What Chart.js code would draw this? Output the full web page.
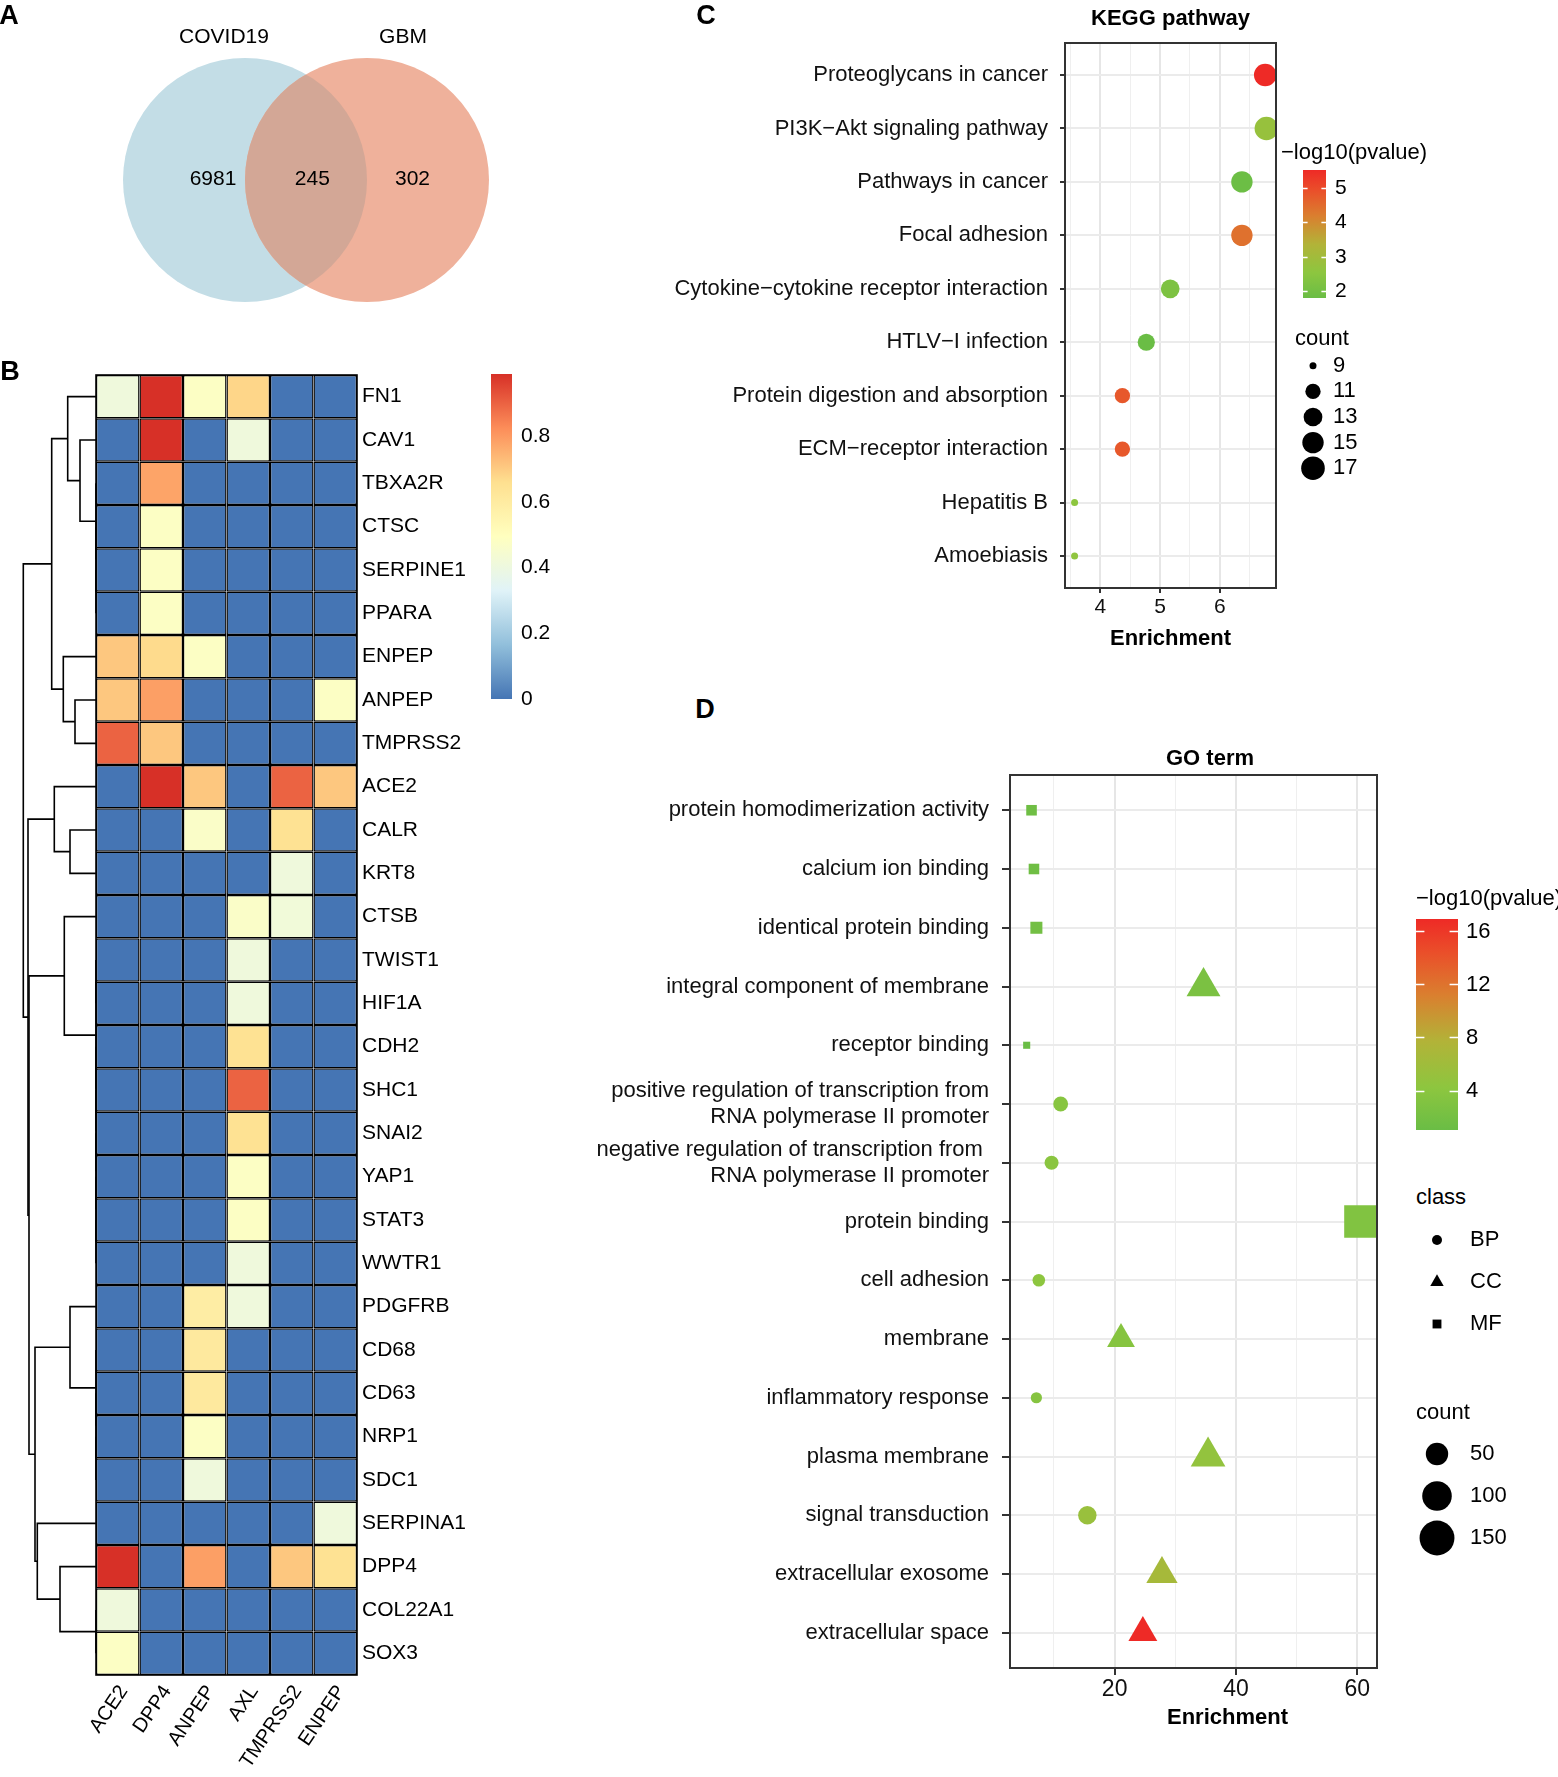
<!DOCTYPE html>
<html>
<head>
<meta charset="utf-8">
<title>COVID19 / GBM figure</title>
<script src="https://cdn.jsdelivr.net/npm/chart.js@4.4.1/dist/chart.umd.min.js"></script>
<style>
  html, body { margin:0; padding:0; background:#fff; }
  #page { position:relative; width:1558px; height:1777px; overflow:hidden; background:#fff;
          font-family:"Liberation Sans", Arial, Helvetica, sans-serif; color:#000; }
  #page canvas { position:absolute; }
  .t { position:absolute; white-space:pre; font-size:22px; line-height:22px; }
</style>
</head>
<body>
<div id="page"></div>
<script>
// ================= DATA =================
// Panel A - Venn
const vennSets = ['COVID19', 'GBM'];
const vennCounts = [6981, 245, 302];          // COVID19 only, shared, GBM only

// Panel B - heatmap
const heatGenes = ['FN1','CAV1','TBXA2R','CTSC','SERPINE1','PPARA','ENPEP','ANPEP','TMPRSS2','ACE2',
                   'CALR','KRT8','CTSB','TWIST1','HIF1A','CDH2','SHC1','SNAI2','YAP1','STAT3',
                   'WWTR1','PDGFRB','CD68','CD63','NRP1','SDC1','SERPINA1','DPP4','COL22A1','SOX3'];
const heatSamples = ['ACE2','DPP4','ANPEP','AXL','TMPRSS2','ENPEP'];
const heatACE2    = [0.41,0,0,0,0,0,0.71,0.71,0.90,0, 0,0,0,0,0,0,0,0,0,0, 0,0,0,0,0,0,0,0.99,0.41,0.48];
const heatDPP4    = [0.99,0.99,0.78,0.48,0.48,0.48,0.67,0.79,0.71,0.99, 0,0,0,0,0,0,0,0,0,0, 0,0,0,0,0,0,0,0,0,0];
const heatANPEP   = [0.48,0,0,0,0,0,0.48,0,0,0.71, 0.47,0,0,0,0,0,0,0,0,0, 0,0.59,0.61,0.61,0.48,0.41,0,0.79,0,0];
const heatAXL     = [0.68,0.41,0,0,0,0,0,0,0,0, 0,0,0.47,0.41,0.41,0.65,0.90,0.65,0.48,0.48, 0.41,0.41,0,0,0,0,0,0,0,0];
const heatTMPRSS2 = [0,0,0,0,0,0,0,0,0,0.90, 0.65,0.41,0.42,0,0,0,0,0,0,0, 0,0,0,0,0,0,0,0.71,0,0];
const heatENPEP   = [0,0,0,0,0,0,0,0.48,0,0.71, 0,0,0,0,0,0,0,0,0,0, 0,0,0,0,0,0,0.41,0.65,0,0];
const heatMax = 0.99;
const heatTicks = [0, 0.2, 0.4, 0.6, 0.8];
// row dendrogram, hclust style: negative = leaf (row index + 1), positive = earlier merge (1-based), then height
const dendroMerges = [
  [-5,-6,0],[-4,1,0],[-3,2,0],[-2,3,16],[-1,4,28.3],[-8,-9,21],[-7,6,32.7],[5,7,44.3],
  [-11,-12,26],[-10,9,41.7],
  [-20,-21,0],[-19,11,0],[-18,12,0],[-17,13,0],[-16,14,0],[-14,-15,0],[16,15,0],[-13,17,31.7],
  [-25,-26,0],[-24,19,0],[-23,20,0],[-22,21,26],
  [-29,-30,0],[-28,23,36],[-27,24,58.7],[22,25,61],
  [18,26,67],[10,27,68],[8,28,72.7]
];

// Panel C - KEGG
const keggPathways = ['Proteoglycans in cancer','PI3K\u2212Akt signaling pathway','Pathways in cancer','Focal adhesion',
  'Cytokine\u2212cytokine receptor interaction','HTLV\u2212I infection','Protein digestion and absorption',
  'ECM\u2212receptor interaction','Hepatitis B','Amoebiasis'];
const keggEnrichment = [6.76, 6.78, 6.37, 6.37, 5.17, 4.77, 4.37, 4.37, 3.57, 3.57];
const keggLogP       = [5.52, 2.77, 1.85, 4.40, 2.20, 1.80, 4.78, 4.78, 2.55, 2.60];
const keggCount      = [16, 17, 15, 15, 13, 12, 11, 11, 9, 9];
const keggXTicks = [3.5, 4, 4.5, 5, 5.5, 6, 6.5];
const keggColorTicks = [2, 3, 4, 5];
const keggCountBreaks = [9, 11, 13, 15, 17];

// Panel D - GO
const goTerms = ['protein homodimerization activity','calcium ion binding','identical protein binding',
  'integral component of membrane','receptor binding',
  ['positive regulation of transcription from','RNA polymerase II promoter'],
  ['negative regulation of transcription from ','RNA polymerase II promoter'],
  'protein binding','cell adhesion','membrane','inflammatory response','plasma membrane',
  'signal transduction','extracellular exosome','extracellular space'];
const goClass      = ['MF','MF','MF','CC','MF','BP','BP','MF','BP','CC','BP','CC','BP','CC','CC'];
const goEnrichment = [6.3, 6.7, 7.1, 34.65, 5.5, 11.1, 9.6, 60.5, 7.5, 21.05, 7.1, 35.4, 15.5, 27.8, 24.65];
const goLogP       = [1.5, 1.5, 1.8, 2.6, 1.02, 3.7, 3.9, 3.1, 4.2, 3.6, 3.6, 4.8, 5.3, 6.6, 16.94];
const goCount      = [13, 13, 16, 67, 10, 19, 17, 166, 14, 41, 12, 71, 31, 55, 45];
const goXTicks = [10, 20, 30, 40, 50, 60];
const goMajorTicks = [20, 40, 60];
const goColorTicks = [4, 8, 12, 16];
const goClassLevels = ['BP', 'CC', 'MF'];
const goCountBreaks = [50, 100, 150];

// ================= STYLE / HELPERS =================
const FONT = '"Liberation Sans", Arial, Helvetica, sans-serif';
Chart.defaults.font.family = FONT;
Chart.defaults.color = '#000';
Chart.defaults.animation = false;
Chart.defaults.responsive = false;
Chart.defaults.events = [];
Chart.defaults.layout.autoPadding = false;
Chart.defaults.plugins.legend.display = false;
Chart.defaults.plugins.tooltip.enabled = false;

const page = document.getElementById('page');
function mkCanvas(L) {
  const c = document.createElement('canvas');
  c.width = L.w; c.height = L.h;
  c.style.left = L.left + 'px'; c.style.top = L.top + 'px';
  c.style.width = L.w + 'px'; c.style.height = L.h + 'px';
  page.appendChild(c);
  return c;
}
function addText(str, x, y, opt = {}) {
  const d = document.createElement('div');
  d.className = 't';
  d.textContent = str;
  d.style.left = x + 'px'; d.style.top = y + 'px';
  if (opt.bold) d.style.fontWeight = 'bold';
  if (opt.size) { d.style.fontSize = opt.size + 'px'; d.style.lineHeight = opt.size + 'px'; }
  d.style.transform = opt.center ? 'translate(-50%,-50%)' : 'translate(0,-50%)';
  page.appendChild(d);
}
// fixed axis box sizes, no automatic label overhang padding
function fixW(w) { return s => { s.width = w; s.paddingTop = s.paddingBottom = s.paddingLeft = s.paddingRight = 0; }; }
function fixH(h) { return s => { s.height = h; s.paddingTop = s.paddingBottom = s.paddingLeft = s.paddingRight = 0; }; }
function hexToRgb(h) { const n = parseInt(h.slice(1), 16); return [(n >> 16) & 255, (n >> 8) & 255, n & 255]; }
function lerpStops(stops, t) {
  t = Math.max(0, Math.min(1, t));
  for (let i = 0; i < stops.length - 1; i++) {
    const [t0, c0] = stops[i], [t1, c1] = stops[i + 1];
    if (t <= t1 + 1e-9) {
      const u = (t - t0) / (t1 - t0), a = hexToRgb(c0), b = hexToRgb(c1);
      return 'rgb(' + [0,1,2].map(k => Math.round(a[k] + (b[k] - a[k]) * u)).join(',') + ')';
    }
  }
  return stops[stops.length - 1][1];
}
const heatStops = ['#4575B4','#91BFDB','#E0F3F8','#FFFFBF','#FEE090','#FC8D59','#D73027'].map((c, i, a) => [i / (a.length - 1), c]);
const enrichStops = [[0,'#6abd45'],[0.2,'#8dc63f'],[0.42,'#b2b338'],[0.64,'#da7f2f'],[0.84,'#ea4f2a'],[1,'#ee2a26']];
function heatColor(v) { return lerpStops(heatStops, v / heatMax); }
function rangeOf(a) { return [Math.min(...a), Math.max(...a)]; }
function enrichColor(v, arr) { const [lo, hi] = rangeOf(arr); return lerpStops(enrichStops, (v - lo) / (hi - lo)); }
function expand(arr, f = 0.05) { const [lo, hi] = rangeOf(arr); const d = (hi - lo) * f; return [lo - d, hi + d]; }
function gradientFill(ctx, stops) {
  const a = ctx.chart.chartArea;
  if (!a) return '#ccc';
  const g = ctx.chart.ctx.createLinearGradient(0, a.bottom, 0, a.top);
  stops.forEach(([t, c]) => g.addColorStop(t, c));
  return g;
}
// size scales (ggplot-like area scaling)
function keggRadius(c) { const [lo, hi] = rangeOf(keggCount); return 3.5 + 8.3 * Math.sqrt((c - lo) / (hi - lo)); }
function goRadius(c) { const [lo, hi] = rangeOf(goCount); return 4 + 14.2 * Math.sqrt(Math.max(0, (c - lo) / (hi - lo))); }
const shapeStyle = { BP: 'circle', CC: 'triangle', MF: 'rect' };
const shapeScale = { BP: 1, CC: 1.555, MF: 1.253 };

// plugin: panel border + titles (ggplot theme_bw look)
const panelDeco = {
  id: 'panelDeco',
  afterDraw(chart, args, o) {
    const { ctx, chartArea: a } = chart;
    ctx.save();
    ctx.strokeStyle = '#333'; ctx.lineWidth = 2;
    ctx.strokeRect(a.left, a.top, a.right - a.left, a.bottom - a.top);
    ctx.fillStyle = '#000'; ctx.textAlign = 'center'; ctx.textBaseline = 'middle';
    ctx.font = 'bold 22px ' + FONT;
    const cx = (a.left + a.right) / 2;
    if (o.title) ctx.fillText(o.title, cx + (o.titleDx || 0), a.top - o.titleUp);
    if (o.xTitle) ctx.fillText(o.xTitle, cx + (o.xTitleDx || 0), a.bottom + o.xTitleDown);
    ctx.restore();
  }
};
// plugin: white tick marks inside a colour bar
const barTicks = {
  id: 'barTicks',
  afterDatasetsDraw(chart) {
    const { ctx, chartArea: a, scales: { y } } = chart;
    const w = (a.right - a.left) / 5;
    ctx.save(); ctx.strokeStyle = '#fff'; ctx.lineWidth = 1.5;
    y.ticks.forEach(t => {
      const p = Math.round(y.getPixelForValue(t.value)) + 0.5;
      ctx.beginPath(); ctx.moveTo(a.left, p); ctx.lineTo(a.left + w, p);
      ctx.moveTo(a.right - w, p); ctx.lineTo(a.right, p); ctx.stroke();
    });
    ctx.restore();
  }
};
const outline = {
  id: 'outline',
  afterDatasetsDraw(chart) {
    const { ctx, chartArea: a } = chart;
    ctx.save(); ctx.strokeStyle = '#000'; ctx.lineWidth = 1.6;
    ctx.strokeRect(a.left, a.top, a.right - a.left, a.bottom - a.top);
    ctx.restore();
  }
};

function colorbar(L, range, ticks, stops, fmt, axisW, pad, size, withTicks) {
  new Chart(mkCanvas(L), {
    type: 'bar',
    data: { labels: [''], datasets: [{ data: [[range[0], range[1]]], backgroundColor: c => gradientFill(c, stops),
      borderWidth: 0, barPercentage: 1, categoryPercentage: 1, inflateAmount: 0 }] },
    options: {
      layout: { padding: L.pad },
      scales: {
        x: { display: false },
        y: { position: 'right', min: range[0], max: range[1],
             afterBuildTicks: s => { s.ticks = ticks.map(v => ({ value: v })); },
             afterFit: fixW(axisW),
             grid: { display: false, drawTicks: false }, border: { display: false },
             ticks: { autoSkip: false, padding: pad, font: { size }, color: '#000', callback: fmt } }
      }
    },
    plugins: withTicks ? [barTicks] : []
  });
}
function symbolLegend(L, labels, styleFn, radiusFn, axisW, pad) {
  new Chart(mkCanvas(L), {
    type: 'scatter',
    data: { datasets: [{ data: labels.map((_, i) => ({ x: 0, y: i })),
      pointStyle: c => styleFn(c.dataIndex), pointRadius: c => radiusFn(c.dataIndex),
      pointBackgroundColor: '#000', pointBorderWidth: 0, clip: false }] },
    options: {
      layout: { padding: L.pad },
      scales: {
        x: { type: 'linear', display: false, min: -1, max: 1 },
        y: { type: 'linear', position: 'right', reverse: true, min: -0.5, max: labels.length - 0.5,
             afterBuildTicks: s => { s.ticks = labels.map((_, i) => ({ value: i })); },
             afterFit: fixW(axisW),
             grid: { display: false, drawTicks: false }, border: { display: false },
             ticks: { autoSkip: false, padding: pad, font: { size: 22 }, color: '#000', callback: v => String(labels[v]) } }
      }
    }
  });
}

// ================= PANEL A : Venn =================
(function () {
  const L = { left: 0, top: 0, w: 520, h: 330 };
  const unit = 122, cxPx = 306, cyPx = 180;     // layout of the diagram
  const centersX = [-0.5, 0.5], radius = 1;      // geometry in diagram units
  const fills = ['#c3dde6', '#efb19b'], overlapFill = '#d3a796';
  const setLabelPos = [[-0.672, 1.168], [0.795, 1.168]];
  const countPos = [[-0.762, 0.01], [0.052, 0.01], [0.873, 0.01]];
  new Chart(mkCanvas(L), {
    type: 'scatter',
    data: { datasets: [{ data: vennSets.map((s, i) => ({ x: centersX[i], y: 0 })), pointRadius: 0 }] },
    options: {
      layout: { padding: 0 },
      scales: {
        x: { type: 'linear', display: false, min: -cxPx / unit, max: (L.w - cxPx) / unit },
        y: { type: 'linear', display: false, min: -(L.h - cyPx) / unit, max: cyPx / unit }
      }
    },
    plugins: [{
      id: 'venn',
      afterDatasetsDraw(chart) {
        const { ctx, scales: { x, y } } = chart;
        const p = chart.getDatasetMeta(0).data;
        const R = Math.abs(x.getPixelForValue(radius) - x.getPixelForValue(0));
        const circle = i => { ctx.beginPath(); ctx.arc(p[i].x, p[i].y, R, 0, Math.PI * 2); };
        ctx.save();
        circle(0); ctx.fillStyle = fills[0]; ctx.fill();
        circle(1); ctx.fillStyle = fills[1]; ctx.fill();
        circle(0); ctx.clip();
        circle(1); ctx.fillStyle = overlapFill; ctx.fill();
        ctx.restore();
        ctx.save();
        ctx.font = '21px ' + FONT; ctx.fillStyle = '#000'; ctx.textAlign = 'center'; ctx.textBaseline = 'middle';
        vennSets.forEach((s, i) => ctx.fillText(s, x.getPixelForValue(setLabelPos[i][0]), y.getPixelForValue(setLabelPos[i][1])));
        vennCounts.forEach((n, i) => ctx.fillText(String(n), x.getPixelForValue(countPos[i][0]), y.getPixelForValue(countPos[i][1])));
        ctx.restore();
      }
    }]
  });
})();

// ================= PANEL B : dendrogram + heatmap =================
(function () {
  // dendrogram
  const pos = [], hgt = [];
  const nPos = id => id < 0 ? (-id - 1) : pos[id - 1];
  const nH = id => id < 0 ? 0 : hgt[id - 1];
  const segs = dendroMerges.map(([a, b, h]) => {
    const pa = nPos(a), pb = nPos(b);
    const s = [{ x: nH(a), y: pa }, { x: h, y: pa }, { x: h, y: pb }, { x: nH(b), y: pb }];
    pos.push((pa + pb) / 2); hgt.push(h);
    return s;
  });
  const LD = { left: 0, top: 371, w: 100, h: 1308 };
  new Chart(mkCanvas(LD), {
    type: 'scatter',
    data: { datasets: segs.map(s => ({ data: s, showLine: true, borderColor: '#000', borderWidth: 1.6,
      pointRadius: 0, tension: 0, fill: false, borderJoinStyle: 'miter', clip: false })) },
    options: {
      layout: { padding: { left: 16, right: 4, top: 4, bottom: 4 } },
      scales: {
        x: { type: 'linear', display: false, min: 0, max: 80, reverse: true },
        y: { type: 'linear', display: false, min: -0.5, max: heatGenes.length - 0.5, reverse: true }
      }
    }
  });

  // heatmap
  const cols = [heatACE2, heatDPP4, heatANPEP, heatAXL, heatTMPRSS2, heatENPEP];
  const LH = { left: 40, top: 369, w: 467, h: 1408 };
  new Chart(mkCanvas(LH), {
    type: 'bar',
    data: { labels: heatGenes, datasets: heatSamples.map((s, j) => ({
      label: s, data: heatGenes.map(() => 1),
      backgroundColor: c => heatColor(cols[j][c.dataIndex]),
      borderColor: '#000', borderWidth: 1.4, borderSkipped: false,
      barPercentage: 1, categoryPercentage: 1, inflateAmount: 0 })) },
    options: {
      indexAxis: 'y',
      layout: { padding: { left: 56, top: 6, right: 0, bottom: 0 } },
      scales: {
        x: { type: 'linear', stacked: true, min: 0, max: heatSamples.length, position: 'bottom',
             afterBuildTicks: s => { s.ticks = heatSamples.map((_, i) => ({ value: i + 0.5 })); },
             afterFit: fixH(102),
             grid: { display: false, drawTicks: false }, border: { display: false },
             ticks: { autoSkip: false, minRotation: 56, maxRotation: 56, padding: 6, labelOffset: 6,
                      font: { size: 20 }, color: '#000', callback: v => heatSamples[Math.floor(v)] } },
        y: { type: 'category', stacked: true, position: 'right',
             afterFit: fixW(150),
             grid: { display: false, drawTicks: false }, border: { display: false },
             ticks: { autoSkip: false, padding: 5, font: { size: 21 }, color: '#000' } }
      }
    },
    plugins: [outline]
  });

  // heatmap colour key
  colorbar({ left: 491, top: 360, w: 81, h: 359, pad: { top: 14, bottom: 20, left: 0, right: 0 } },
    [0, heatMax], heatTicks, heatStops, v => (v === 0 ? '0' : v.toFixed(1)), 60, 9, 21, false);
})();

// ================= PANEL C : KEGG =================
(function () {
  const xr = expand(keggEnrichment);
  const major = v => Number.isInteger(v);
  new Chart(mkCanvas({ left: 640, top: 0, w: 640, h: 655 }), {
    type: 'scatter',
    data: { datasets: [{ data: keggEnrichment.map((x, i) => ({ x, y: i })),
      pointRadius: c => keggRadius(keggCount[c.dataIndex]),
      pointBackgroundColor: c => enrichColor(keggLogP[c.dataIndex], keggLogP),
      pointBorderWidth: 0, pointStyle: 'circle' }] },
    options: {
      layout: { padding: { left: 0, right: 4, top: 43, bottom: 0 } },
      scales: {
        x: { type: 'linear', min: xr[0], max: xr[1],
             afterBuildTicks: s => { s.ticks = keggXTicks.map(v => ({ value: v })); },
             afterFit: fixH(67),
             grid: { color: c => major(c.tick.value) ? '#e6e6e6' : '#efefef', lineWidth: c => major(c.tick.value) ? 2 : 1,
                     tickColor: c => major(c.tick.value) ? '#333' : 'rgba(0,0,0,0)', tickWidth: 2, tickLength: 5 },
             border: { display: false },
             ticks: { autoSkip: false, maxRotation: 0, padding: 2, font: { size: 21 }, color: '#111',
                      callback: v => major(v) ? String(v) : '' } },
        y: { type: 'linear', reverse: true, min: -0.6, max: keggPathways.length - 0.4,
             afterBuildTicks: s => { s.ticks = keggPathways.map((_, i) => ({ value: i })); },
             afterFit: fixW(425),
             grid: { color: '#ebebeb', lineWidth: 2, tickColor: '#333', tickWidth: 2, tickLength: 5 },
             border: { display: false },
             ticks: { autoSkip: false, padding: 12, font: { size: 22 }, color: '#111', callback: v => keggPathways[v] } }
      },
      plugins: { panelDeco: { title: 'KEGG pathway', titleUp: 24, xTitle: 'Enrichment', xTitleDown: 50.5 } }
    },
    plugins: [panelDeco]
  });
  const pr = rangeOf(keggLogP);
  colorbar({ left: 1303, top: 160, w: 73, h: 152, pad: { top: 10, bottom: 14, left: 0, right: 0 } },
    pr, keggColorTicks, enrichStops, v => String(v), 50, 9, 21, true);
  symbolLegend({ left: 1300, top: 345, w: 76, h: 146, pad: { top: 8, bottom: 10, left: 0, right: 0 } },
    keggCountBreaks, () => 'circle', i => keggRadius(keggCountBreaks[i]), 50, 7);
})();

// ================= PANEL D : GO =================
(function () {
  const xr = expand(goEnrichment);
  const major = v => goMajorTicks.includes(v);
  new Chart(mkCanvas({ left: 550, top: 740, w: 831, h: 998 }), {
    type: 'scatter',
    data: { datasets: [{ data: goEnrichment.map((x, i) => ({ x, y: i })),
      pointStyle: c => shapeStyle[goClass[c.dataIndex]],
      pointRadius: c => goRadius(goCount[c.dataIndex]) * shapeScale[goClass[c.dataIndex]],
      pointBackgroundColor: c => enrichColor(goLogP[c.dataIndex], goLogP),
      pointBorderWidth: 0 }] },
    options: {
      layout: { padding: { left: 0, right: 4, top: 35, bottom: 0 } },
      scales: {
        x: { type: 'linear', min: xr[0], max: xr[1],
             afterBuildTicks: s => { s.ticks = goXTicks.map(v => ({ value: v })); },
             afterFit: fixH(70),
             grid: { color: c => major(c.tick.value) ? '#e6e6e6' : '#efefef', lineWidth: c => major(c.tick.value) ? 2 : 1,
                     tickColor: c => major(c.tick.value) ? '#333' : 'rgba(0,0,0,0)', tickWidth: 2, tickLength: 7 },
             border: { display: false },
             ticks: { autoSkip: false, maxRotation: 0, padding: 1, font: { size: 23 }, color: '#111',
                      callback: v => major(v) ? String(v) : '' } },
        y: { type: 'linear', reverse: true, min: -0.6, max: goTerms.length - 0.4,
             afterBuildTicks: s => { s.ticks = goTerms.map((_, i) => ({ value: i })); },
             afterFit: fixW(460),
             grid: { color: '#ebebeb', lineWidth: 2, tickColor: '#333', tickWidth: 2, tickLength: 8 },
             border: { display: false },
             ticks: { autoSkip: false, padding: 13, font: { size: 22 }, color: '#111', callback: v => goTerms[v] } }
      },
      plugins: { panelDeco: { title: 'GO term', titleUp: 16.4, titleDx: 16.5, xTitle: 'Enrichment', xTitleDown: 50, xTitleDx: 34 } }
    },
    plugins: [panelDeco]
  });
  colorbar({ left: 1416, top: 909, w: 97, h: 235, pad: { top: 10, bottom: 14, left: 0, right: 0 } },
    rangeOf(goLogP), goColorTicks, enrichStops, v => String(v), 55, 8, 22, true);
  symbolLegend({ left: 1422, top: 1209, w: 100, h: 146, pad: { top: 10, bottom: 10, left: 0, right: 0 } },
    goClassLevels, i => shapeStyle[goClassLevels[i]], i => 5 * shapeScale[goClassLevels[i]], 70, 18);
  symbolLegend({ left: 1418, top: 1423, w: 110, h: 146, pad: { top: 10, bottom: 10, left: 0, right: 0 } },
    goCountBreaks, () => 'circle', i => goRadius(goCountBreaks[i]), 72, 14);
})();

// ================= panel tags & legend titles =================
addText('A', 9, 15, { bold: true, center: true, size: 27 });
addText('B', 10, 370.5, { bold: true, center: true, size: 27 });
addText('C', 706, 15, { bold: true, center: true, size: 27 });
addText('D', 705, 709, { bold: true, center: true, size: 27 });
addText('\u2212log10(pvalue)', 1281, 151.5);
addText('count', 1295, 337.5);
addText('\u2212log10(pvalue)', 1416, 898);
addText('class', 1416, 1196.7);
addText('count', 1416, 1411.7);
</script>
</body>
</html>
